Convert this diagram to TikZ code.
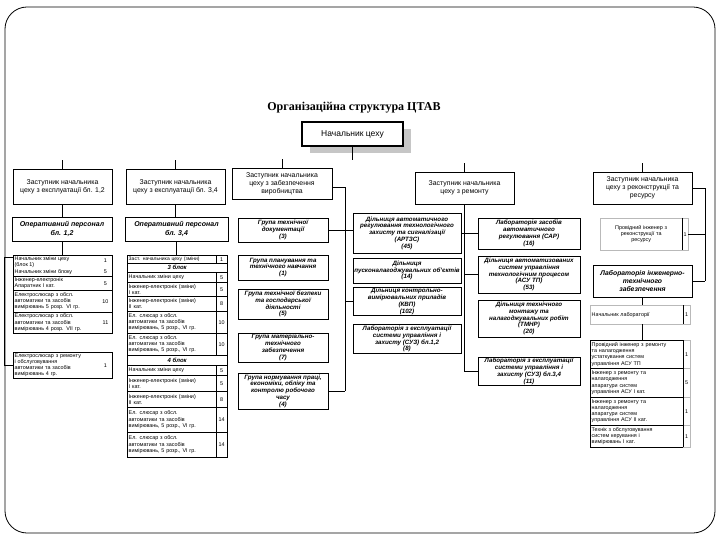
\documentclass[tikz,border=0pt]{standalone}
\usepackage{fontspec}
\setmainfont{Liberation Sans}
\newfontfamily\titlefont{Liberation Serif}
\newcommand\rowB[9][]{%
  \pgfmathsetmacro\myrw{#4-#3}%
  \pgfmathsetmacro\myrh{#7-#6}%
  \pgfmathsetmacro\mytw{#4-#3-3}%
  \pgfmathsetmacro\mynw{#5-#4}%
  \node[cell, anchor=north west, minimum width=\myrw pt, minimum height=\myrh pt, text width=\mytw pt, #1] (#2) at (#3,#6) {#8};
  \node[numcell, anchor=north west, minimum width=\mynw pt, minimum height=\myrh pt] (#2n) at (#4,#6) {#9};
}
\newcommand\rowA[7]{%
  \pgfmathsetmacro\myrw{#3-#2}%
  \pgfmathsetmacro\myrh{#5-#4}%
  \node[frm, anchor=north west, minimum width=\myrw pt, minimum height=\myrh pt] (#1) at (#2,#4) {};
  \node[txt, anchor=west, text width=82pt] (#1t) at ([xshift=1.5pt]#1.west) {#6};
  \node[txt] (#1n) at ([xshift=-7pt]#1.east) {#7};
}
\begin{document}
\begin{tikzpicture}[x=1pt,y=-1pt,
  conn/.style={line width=0.6pt},
  box/.style={draw, line width=0.8pt, align=center, inner sep=1pt},
  dep/.style={box, font=\fontsize{6.9}{8}\selectfont},
  grp/.style={box, font=\bfseries\itshape\fontsize{6.2}{6.8}\selectfont},
  cell/.style={draw, line width=0.45pt, align=left, inner xsep=1.5pt, inner ysep=0pt, font=\fontsize{5.4}{6.3}\selectfont},
  numcell/.style={draw, line width=0.45pt, inner sep=0pt, font=\fontsize{5.4}{6.3}\selectfont},
  frm/.style={draw, line width=0.45pt, inner sep=0pt},
  txt/.style={inner sep=0pt, align=left, font=\fontsize{5.4}{6.3}\selectfont},
  hd/.style={frm, font=\bfseries\itshape\fontsize{6}{7}\selectfont}]
\useasboundingbox (0,0) rectangle (720,540);
% outer frame
\draw[line width=0.8pt, rounded corners=22pt] (5,7) rectangle (715,533);
% title
\node[font=\titlefont\bfseries\fontsize{12}{14}\selectfont] (title) at (354,108) {Організаційна структура ЦТАВ};
% chief
\fill[gray!45] (310,129) rectangle (411,153);
\node[box, line width=1.2pt, fill=white, minimum width=101pt, minimum height=24pt, font=\fontsize{8.5}{10}\selectfont] (chief) at (352.5,134) {Начальник цеху};
\coordinate (bus) at (352.5,160);
\draw[conn] (chief.south) -- (bus);
% deputies
\node[dep, minimum width=99pt, minimum height=35pt] (d1) at (62.5,186.5) {Заступник начальника\\цеху з експлуатації бл. 1,2};
\node[dep, minimum width=99pt, minimum height=35pt] (d2) at (175.5,186.5) {Заступник начальника\\цеху з експлуатації бл. 3,4};
\node[dep, minimum width=100pt, minimum height=31pt] (d3) at (282,183.5) {Заступник начальника\\цеху з забезпечення\\виробництва};
\node[dep, minimum width=99pt, minimum height=32pt] (d4) at (464.5,188) {Заступник начальника\\цеху з ремонту};
\node[dep, minimum width=99pt, minimum height=32pt] (d5) at (642.5,188) {Заступник начальника\\цеху з реконструкції та\\ресурсу};
\foreach \d in {d1,d2,d3,d4,d5} {\draw[conn] (\d.north) -- ++(0,-9);}
% operational personnel
\node[grp, font=\bfseries\itshape\fontsize{7}{8.4}\selectfont, minimum width=100pt, minimum height=24pt] (op1) at (62,229) {Оперативний персонал\\бл. 1,2};
\node[grp, font=\bfseries\itshape\fontsize{7}{8.4}\selectfont, minimum width=103pt, minimum height=24pt] (op2) at (176.5,229) {Оперативний персонал\\бл. 3,4};
\draw[conn] (d1.south) -- (d1.south |- op1.north);
\draw[conn] (d2.south) -- (d2.south |- op2.north);
% column 1 table
\node[frm, anchor=north west, minimum width=99pt, minimum height=21pt] (r1) at (13,255) {};
\node[txt, anchor=north west] (r1a) at ([xshift=1.5pt,yshift=-1pt]r1.north west) {Начальник зміни цеху\\(блок 1)};
\node[txt, anchor=south west] (r1b) at ([xshift=1.5pt,yshift=1.2pt]r1.south west) {Начальник зміни блоку};
\node[txt] (r1an) at ([xshift=-7pt,yshift=-5.5pt]r1.north east) {1};
\node[txt] (r1bn) at ([xshift=-7pt,yshift=4.5pt]r1.south east) {5};
\rowA{r2}{13}{112}{276}{290}{Інженер-електронік\\Апаратник І кат.}{5}
\rowA{r3}{13}{112}{290}{312}{Електрослюсар з обсл.\\автоматики та засобів\\вимірювань 5 розр. VI гр.}{10}
\rowA{r4}{13}{112}{312}{333}{Електрослюсар з обсл.\\автоматики та засобів\\вимірювань 4 розр. VII гр.}{11}
\rowA{s}{13}{112}{352}{378}{Електрослюсар з ремонту\\і обслуговування\\автоматики та засобів\\вимірювань 4 гр.}{1}
\draw[conn] (op1.south) -- (op1.south |- r1.north);
\draw[conn] ([yshift=-2pt]r1.north west) -- ++(-9,0) |- (s.west);
% column 2 table
\rowB{t1}{127}{216}{227}{255}{263}{{\fontsize{5}{6}\selectfont Заст. начальника цеху (зміни)}}{1}
\node[hd, anchor=north west, minimum width=100pt, minimum height=9pt] (h3) at (127,263) {3 блок};
\rowB{t2}{127}{216}{227}{272}{282}{Начальник зміни цеху}{5}
\rowB{t3}{127}{216}{227}{282}{296}{Інженер-електронік (зміни)\\І кат.}{5}
\rowB{t4}{127}{216}{227}{296}{311}{Інженер-електронік (зміни)\\ІІ кат.}{8}
\rowB{t5}{127}{216}{227}{311}{333}{Ел. слюсар з обсл.\\автоматики та засобів\\вимірювань, 5 розр., VI гр.}{10}
\rowB{t6}{127}{216}{227}{333}{355}{Ел. слюсар з обсл.\\автоматики та засобів\\вимірювань, 5 розр., VI гр.}{10}
\node[hd, anchor=north west, minimum width=100pt, minimum height=10pt] (h4) at (127,355) {4 блок};
\rowB{t7}{127}{216}{227}{365}{375}{Начальник зміни цеху}{5}
\rowB{t8}{127}{216}{227}{375}{391}{Інженер-електронік (зміни)\\І кат.}{5}
\rowB{t9}{127}{216}{227}{391}{407}{Інженер-електронік (зміни)\\ІІ кат.}{8}
\rowB{t10}{127}{216}{227}{407}{432}{Ел. слюсар з обсл.\\автоматики та засобів\\вимірювань, 5 розр., VI гр.}{14}
\rowB{t11}{127}{216}{227}{432}{457}{Ел. слюсар з обсл.\\автоматики та засобів\\вимірювань, 5 розр., VI гр.}{14}
\draw[conn] (op2.south) -- (op2.south |- t1.north);
% column 3 groups
\node[grp, minimum width=90pt, minimum height=24pt] (A) at (283,230) {Група технічної\\документації\\(3)};
\node[grp, minimum width=90pt, minimum height=25pt] (B) at (283,267.5) {Група планування та\\технічного навчання\\(1)};
\node[grp, minimum width=90pt, minimum height=30pt] (C) at (283,304) {Група технічної безпеки\\та господарської\\діяльності\\(5)};
\node[grp, minimum width=90pt, minimum height=29pt] (D) at (283,347.5) {Група матеріально-\\технічного\\забезпечення\\(7)};
\node[grp, minimum width=90pt, minimum height=36pt] (E) at (283,391) {Група нормування праці,\\економіки, обліку та\\контролю робочого\\часу\\(4)};
% column 4
\node[grp, minimum width=108pt, minimum height=40pt] (F) at (407,233) {Дільниця автоматичного\\регулювання технологічного\\захисту та сигналізації\\(АРТЗС)\\(45)};
\node[grp, minimum width=108pt, minimum height=25pt] (G) at (407,270.5) {Дільниця\\пусконалагоджувальних об’єктів\\(14)};
\node[grp, minimum width=108pt, minimum height=27pt] (H) at (407,301.5) {Дільниця контрольно-\\вимірювальних приладів\\(КВП)\\(102)};
\node[grp, minimum width=108pt, minimum height=26pt] (I) at (407,339) {Лабораторія з експлуатації\\системи управління і\\захисту (СУЗ) бл.1,2\\(8)};
% column 5a
\node[grp, minimum width=102pt, minimum height=31pt] (J) at (529,233.5) {Лабораторія засобів\\автоматичного\\регулювання (САР)\\(16)};
\node[grp, minimum width=102pt, minimum height=37pt] (K) at (529,274.5) {Дільниця автоматизованих\\систем управління\\технологічним процесом\\(АСУ ТП)\\(53)};
\node[grp, minimum width=102pt, minimum height=37pt] (L) at (529,318.5) {Дільниця технічного\\монтажу та\\налагоджувальних робіт\\(ТМНР)\\(20)};
\node[grp, minimum width=102pt, minimum height=27pt] (M) at (529,371.5) {Лабораторія з експлуатації\\системи управління і\\захисту (СУЗ) бл.3,4\\(11)};
% column 3 connectors
\coordinate (v3) at (345,0);
\draw[conn] ([yshift=-4pt]d3.east) -- ([yshift=-4pt]d3.east -| v3) -- (v3 |- E.east);
\draw[conn] (A.east) -- (A.east -| F.west);
\draw[conn] (E.east) -- (E.east -| v3);
\draw[conn] (H.west) -- (H.west -| v3);
% column 4 connectors
\draw[conn] (d4.south) -- (d4.south |- M.west);
\draw[conn] (F.east) -- (F.east -| J.west);
\draw[conn] (K.west) -- (K.west -| d4.south);
\draw[conn] (M.west) -- (M.west -| d4.south);
% column 5b
\begin{scope}[numcell/.append style={draw=gray!55}]
\rowB[align=center, draw=gray!55]{N}{600}{682}{688}{218}{250}{Провідний інженер з\\реконструкції та\\ресурсу}{1}
\node[grp, font=\bfseries\itshape\fontsize{6.8}{7.8}\selectfont, minimum width=99pt, minimum height=32pt] (O) at (642.5,281) {Лабораторія інженерно-\\технічного\\забезпечення};
\rowB[draw=gray!55]{P}{590}{683}{690}{305}{324}{Начальник лабораторії}{1}
\rowB{Q1}{590}{683}{690}{340}{368}{Провідний інженер з ремонту\\та налагодження\\устаткування систем\\управління АСУ ТП}{1}
\rowB{Q2}{590}{683}{690}{368}{397}{Інженер з ремонту та\\налагодження\\апаратури систем\\управління АСУ І кат.}{5}
\rowB{Q3}{590}{683}{690}{397}{425}{Інженер з ремонту та\\налагодження\\апаратури систем\\управління АСУ ІІ кат.}{1}
\rowB{Q4}{590}{683}{690}{425}{447}{Технік з обслуговування\\систем керування і\\вимірювань І кат.}{1}
\end{scope}
\foreach \r in {N,P,Q1,Q2,Q3,Q4} {\draw[line width=0.6pt] (\r n.north west) -- (\r n.south west);}
\coordinate (v5) at (705,0);
\draw[conn] (d5.east) -- (d5.east -| v5) -- (v5 |- O.east);
\draw[conn] (Nn.east) -- (Nn.east -| v5);
\draw[conn] (O.east) -- (O.east -| v5);
\draw[conn] (O.south) -- (O.south |- P.north);
\draw[conn] (O.south |- P.south) -- (O.south |- Q1.north);
\end{tikzpicture}
\end{document}
